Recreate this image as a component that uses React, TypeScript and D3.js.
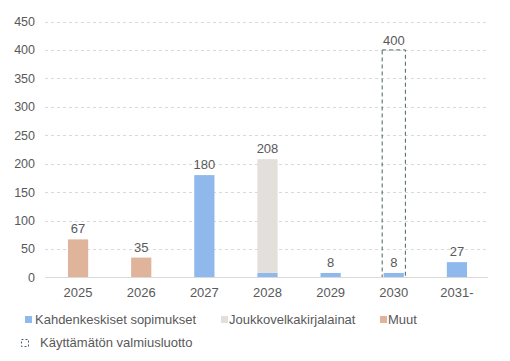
import * as d3 from 'd3';
import React from 'react';

const years = ['2025', '2026', '2027', '2028', '2029', '2030', '2031-'];
const bilateral = [0, 0, 180, 8, 8, 8, 27];
const bonds = [0, 0, 0, 200, 0, 0, 0];
const other = [67, 35, 0, 0, 0, 0, 0];
const totals = [67, 35, 180, 208, 8, 8, 27];
const undrawn = [0, 0, 0, 0, 0, 400, 0];
const yTicks = [0, 50, 100, 150, 200, 250, 300, 350, 400, 450];

const colors = { bilateral: '#8fb8ec', bonds: '#e3dfdb', other: '#e0b49a' };

const W = 510;
const H = 361;
const font = 'Liberation Sans, Arial, sans-serif';

export default function App() {
  const x = d3.scaleBand().domain(years).range([46.5, 488.5]).paddingInner(0.68).paddingOuter(0.34);
  const y = d3.scaleLinear().domain([0, 450]).range([277.5, 21.5]);

  const stack = d3.stack<number>()
    .keys(['bilateral', 'bonds', 'other'])
    .value((i, k) => (k === 'bilateral' ? bilateral : k === 'bonds' ? bonds : other)[i]);
  const series = stack(years.map((_, i) => i));

  const bw = x.bandwidth();

  return (
    <svg width={W} height={H} style={{ position: 'absolute', left: 0, top: 0, background: '#fff' }} fontFamily={font}>
      {/* grid */}
      {yTicks.filter(t => t > 0).map(t => (
        <line key={t} x1={45} x2={488} y1={Math.round(y(t)) + 0.5} y2={Math.round(y(t)) + 0.5}
          stroke="#d9d9d9" strokeDasharray="3,3" />
      ))}
      {yTicks.map(t => (
        <text key={t} x={35} y={y(t)} dy="0.35em" textAnchor="end" fontSize={12.5} fill="#595959">{t}</text>
      ))}
      {/* bars */}
      {series.map(s => (
        <g key={s.key} fill={colors[s.key as keyof typeof colors]}>
          {s.map((d, i) => d[1] > d[0] ? (
            <rect key={i} x={x(years[i])} y={y(d[1])} width={bw} height={y(d[0]) - y(d[1])} />
          ) : null)}
        </g>
      ))}
      {/* undrawn facility */}
      {undrawn.map((v, i) => v > 0 ? (
        <g key={i}>
          <rect x={x(years[i])! - 1.5} y={y(v)} width={bw + 3} height={y(0) - y(v)}
            fill="none" stroke="#4a6266" strokeWidth={1} strokeDasharray="4,3" />
          <text x={x(years[i])! + bw / 2} y={y(v) - 5} textAnchor="middle" fontSize={13} fill="#595959">{v}</text>
        </g>
      ) : null)}
      {/* baseline */}
      <line x1={45} x2={488} y1={277.5} y2={277.5} stroke="#d9d9d9" />
      {/* totals */}
      {totals.map((v, i) => (
        <text key={i} x={x(years[i])! + bw / 2} y={y(v) - 6} textAnchor="middle" fontSize={13} fill="#595959">{v}</text>
      ))}
      {years.map(yr => (
        <text key={yr} x={x(yr)! + bw / 2} y={297} textAnchor="middle" fontSize={13} fill="#595959">{yr}</text>
      ))}
      {/* legend */}
      <g fontSize={13} fill="#595959">
        <rect x={25} y={316} width={7} height={7} fill={colors.bilateral} />
        <text x={35} y={324}>Kahdenkeskiset sopimukset</text>
        <rect x={221} y={316} width={7} height={7} fill={colors.bonds} />
        <text x={229} y={324}>Joukkovelkakirjalainat</text>
        <rect x={380} y={316} width={7} height={7} fill={colors.other} />
        <text x={388} y={324}>Muut</text>
        <rect x={21.5} y={339.5} width={7} height={7} fill="none" stroke="#4a6266" strokeDasharray="2,2" />
        <text x={40} y={347}>Käyttämätön valmiusluotto</text>
      </g>
    </svg>
  );
}
